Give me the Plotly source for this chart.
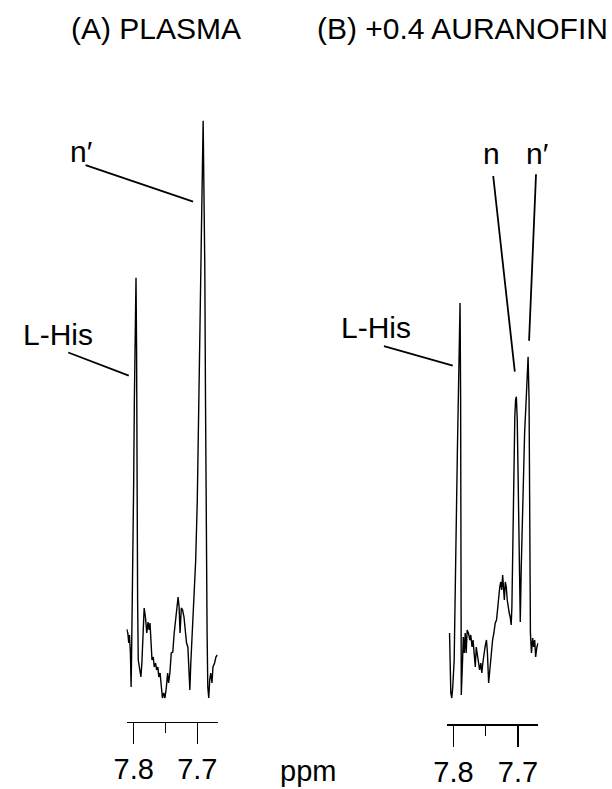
import plotly.graph_objects as go

# ---------------- data (chemical shift in ppm, intensity in arbitrary units) ----------------
ppm_a = [7.8112, 7.8092, 7.8077, 7.8066, 7.8051, 7.8040, 7.8031, 7.8020, 7.8009, 7.8000,
         7.7989, 7.7977, 7.7963, 7.7954, 7.7948, 7.7938, 7.7928, 7.7908, 7.7886, 7.7871,
         7.7855, 7.7835, 7.7815, 7.7794, 7.7774, 7.7758, 7.7743, 7.7728, 7.7712, 7.7692,
         7.7677, 7.7655, 7.7640, 7.7620, 7.7605, 7.7585, 7.7563, 7.7548, 7.7528, 7.7508,
         7.7486, 7.7466, 7.7451, 7.7431, 7.7409, 7.7385, 7.7363, 7.7343, 7.7323, 7.7302,
         7.7286, 7.7271, 7.7251, 7.7231, 7.7209, 7.7189, 7.7169, 7.7148, 7.7128, 7.7117,
         7.7102, 7.7077, 7.7051, 7.7025, 7.7000, 7.6985, 7.6969, 7.6958, 7.6938, 7.6917,
         7.6908, 7.6894, 7.6882, 7.6871, 7.6862, 7.6846, 7.6835, 7.6820, 7.6805, 7.6789,
         7.6769, 7.6754, 7.6728, 7.6708, 7.6686]
int_a = [92.7, 88.7, 78.7, 86.7, 68.7, 34.7, 74.7, 121.7, 171.7, 238.7,
         321.7, 391.7, 444.0, 371.7, 221.7, 121.7, 61.7, 54.7, 44.7, 58.7,
         88.7, 113.7, 104.7, 88.7, 99.7, 91.7, 98.7, 81.7, 61.7, 64.7,
         54.7, 58.7, 51.7, 54.7, 44.7, 48.7, 34.7, 23.7, 28.7, 23.7,
         34.7, 48.7, 38.7, 48.7, 68.7, 69.7, 88.7, 101.7, 108.7, 124.7,
         114.7, 88.7, 113.7, 111.7, 104.7, 88.7, 78.7, 74.7, 48.7, 31.7,
         58.7, 88.7, 121.7, 161.7, 221.7, 271.7, 321.7, 394.7, 478.7, 600.7,
         601.0, 521.7, 454.7, 321.7, 188.7, 88.7, 34.7, 23.7, 41.7, 48.7,
         38.7, 54.7, 58.7, 64.7, 66.7]

ppm_b = [7.8061, 7.8050, 7.8041, 7.8026, 7.8011, 7.7989, 7.7974, 7.7959, 7.7939, 7.7924,
         7.7909, 7.7898, 7.7889, 7.7886, 7.7883, 7.7879, 7.7859, 7.7848, 7.7833, 7.7818,
         7.7803, 7.7788, 7.7768, 7.7747, 7.7732, 7.7712, 7.7697, 7.7677, 7.7662, 7.7647,
         7.7632, 7.7611, 7.7595, 7.7576, 7.7561, 7.7545, 7.7530, 7.7511, 7.7489, 7.7474,
         7.7455, 7.7435, 7.7414, 7.7394, 7.7374, 7.7353, 7.7333, 7.7314, 7.7298, 7.7283,
         7.7268, 7.7253, 7.7238, 7.7223, 7.7212, 7.7197, 7.7182, 7.7167, 7.7152, 7.7136,
         7.7121, 7.7106, 7.7095, 7.7080, 7.7065, 7.7050, 7.7038, 7.7026, 7.7012, 7.7000,
         7.6980, 7.6965, 7.6950, 7.6929, 7.6898, 7.6874, 7.6856, 7.6844, 7.6829, 7.6818,
         7.6808, 7.6792, 7.6773, 7.6758, 7.6742, 7.6727, 7.6708, 7.6686]
int_b = [91.3, 57.3, 31.3, 26.3, 37.3, 64.3, 111.3, 191.3, 274.3, 324.3,
         394.3, 421.3, 324.3, 224.3, 124.3, 29.3, 64.3, 87.3, 71.3, 91.3,
         71.3, 94.3, 91.3, 84.3, 89.3, 77.3, 84.3, 67.3, 57.3, 77.3,
         71.3, 64.3, 54.3, 61.3, 51.3, 61.3, 71.3, 77.3, 84.3, 71.3,
         41.3, 57.3, 71.3, 84.3, 91.3, 101.3, 104.3, 117.3, 134.3, 137.3,
         142.3, 134.3, 149.3, 137.3, 124.3, 142.3, 137.3, 124.3, 114.3, 111.3,
         107.3, 99.3, 117.3, 191.3, 257.3, 307.3, 324.3, 327.6, 304.3, 257.3,
         157.3, 102.3, 157.3, 224.3, 291.3, 324.3, 354.3, 367.6, 324.3, 191.3,
         91.3, 71.3, 86.3, 77.3, 84.3, 67.3, 77.3, 81.3]

tick_vals = [7.8, 7.7]
tick_text = ["7.8", "7.7"]
minor_vals = [7.75]

titles = ["(A) PLASMA", "(B) +0.4 AURANOFIN"]

# leader-line end points near the peaks: (ppm, intensity)
labels_a = {"L-His": (7.8077, 346.0), "n′": (7.7066, 520.0)}
labels_b = {"L-His": (7.8011, 358.6), "n": (7.7050, 352.6), "n′": (7.6829, 383.6)}

# ---------------- layout helpers ----------------
W, H = 612, 789
FONT = "Liberation Sans, Arial, Helvetica, sans-serif"
FS_TEXT = 30
FS_TICK = 29


def px(x):
    return x / W


def py(y):
    return 1 - y / H


fig = go.Figure()
fig.add_trace(go.Scatter(x=ppm_a, y=int_a, mode="lines",
                         line=dict(color="black", width=1.4),
                         xaxis="x", yaxis="y", showlegend=False, hoverinfo="skip"))
fig.add_trace(go.Scatter(x=ppm_b, y=int_b, mode="lines",
                         line=dict(color="black", width=1.4),
                         xaxis="x2", yaxis="y2", showlegend=False, hoverinfo="skip"))

axis_common = dict(
    showline=True, linecolor="black", linewidth=1.5,
    ticks="outside", ticklen=21, tickwidth=1.5, tickcolor="black",
    tickmode="array", tickvals=tick_vals, ticktext=tick_text,
    minor=dict(tickmode="array", tickvals=minor_vals, ticks="outside",
               ticklen=10, tickwidth=1.3, tickcolor="black"),
    showgrid=False, zeroline=False,
    tickfont=dict(family=FONT, size=FS_TICK, color="black"),
)

fig.update_layout(
    width=W, height=H,
    margin=dict(l=0, r=0, t=0, b=0),
    paper_bgcolor="white", plot_bgcolor="white",
    xaxis=dict(domain=[px(116), px(209.3)], range=[7.8112, 7.6677],
               anchor="y", **axis_common),
    yaxis=dict(domain=[py(721.7), py(100)], range=[0, 621.7], visible=False),
    xaxis2=dict(domain=[px(443.3), px(536.7)], range=[7.8102, 7.6686],
                anchor="y2", **axis_common),
    yaxis2=dict(domain=[py(724.3), py(100)], range=[0, 624.3], visible=False),
)

ann = []


def text_ann(t, x, y, size=FS_TEXT):
    return dict(text=t, x=px(x), y=py(y), xref="paper", yref="paper",
                xanchor="center", yanchor="middle", showarrow=False,
                font=dict(family=FONT, size=size, color="black"))


ann.append(text_ann(titles[0], 146, 28))
ann.append(text_ann(titles[1], 459, 28))
ann.append(text_ann("ppm", 301, 771, FS_TICK))

text_pos = [
    ("L-His", 46, 334), ("n′", 70, 152),
    ("L-His", 371, 327), ("n", 489, 153), ("n′", 536, 153),
]
for t, x, y in text_pos:
    ann.append(text_ann(t, x, y))

leaders = [
    ("x", "y", labels_a["L-His"], -61, -23.4),
    ("x", "y", labels_a["n′"], -108, -36.7),
    ("x2", "y2", labels_b["L-His"], -69.3, -19.7),
    ("x2", "y2", labels_b["n"], -21.7, -196.7),
    ("x2", "y2", labels_b["n′"], 7, -167.4),
]
for xr, yr, (xv, yv), ax, ay in leaders:
    ann.append(dict(text=" ", x=xv, y=yv, xref=xr, yref=yr, ax=ax, ay=ay,
                    showarrow=True, arrowhead=0, arrowwidth=1.8, arrowcolor="black",
                    font=dict(size=1), borderpad=0, standoff=0))

fig.update_layout(annotations=ann, hovermode=False)
fig.write_html("out.html",
               config={"displayModeBar": False, "staticPlot": True},
               post_script="document.body.style.margin='0';document.body.style.overflow='hidden';")
